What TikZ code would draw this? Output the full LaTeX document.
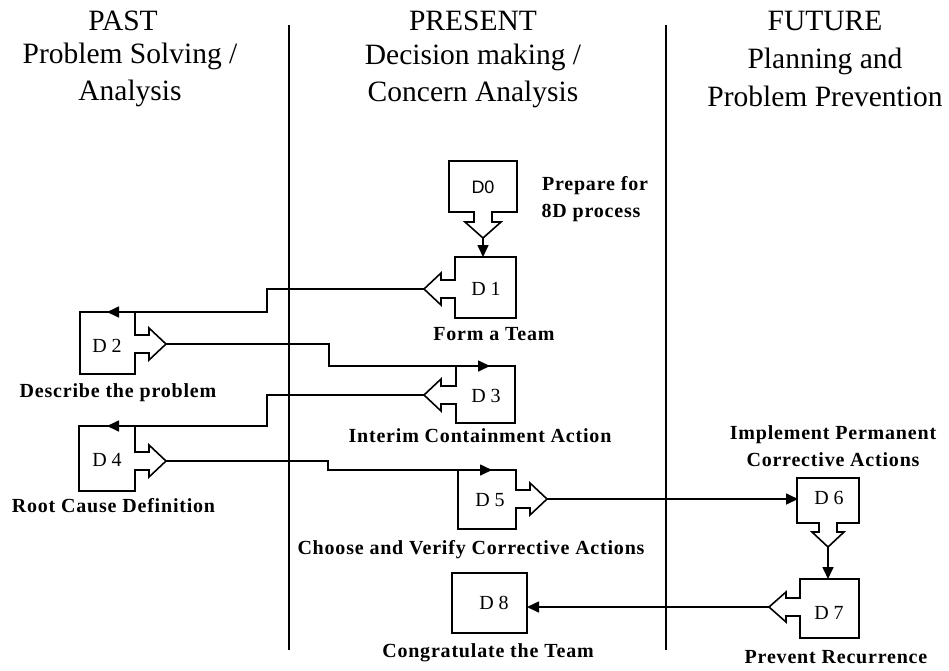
\documentclass[tikz,border=0pt]{standalone}
\usepackage{fontspec}
\setmainfont{Liberation Serif}
\newfontfamily\dsans{Liberation Sans}
\newfontfamily\captfont[LetterSpace=4]{Liberation Serif}
\usetikzlibrary{arrows.meta}
\begin{document}
\begin{tikzpicture}[x=1pt,y=-1pt,
  outline/.style={draw=black,line width=1.6pt,line join=miter,fill=white},
  conn/.style={draw=black,line width=1.6pt},
  arr/.style={conn,-{Triangle[length=12pt,width=11pt]}},
  divider/.style={draw=black,line width=1.3pt},
  head/.style={font=\fontsize{29.5}{34}\selectfont,anchor=base,inner sep=0pt},
  capt/.style={font=\captfont\fontsize{20}{26}\selectfont\bfseries,anchor=base,inner sep=0pt},
  dlab/.style={font=\fontsize{20}{22}\selectfont,inner sep=0pt}]
\useasboundingbox (0,0) rectangle (949,670);
% dividers
\draw[divider] (289,25) -- (289,650);
\draw[divider] (666,25) -- (666,650);
% headers
\node[head] (hpast) at (123,30) {PAST};
\node[head] (hpast2) at (130,63) {Problem Solving /};
\node[head] (hpast3) at (130,100) {Analysis};
\node[head] (hpre) at (473,30) {PRESENT};
\node[head] (hpre2) at (473,64) {Decision making /};
\node[head] (hpre3) at (473,101) {Concern Analysis};
\node[head] (hfut) at (825,30) {FUTURE};
\node[head] (hfut2) at (825,68) {Planning and};
\node[head] (hfut3) at (825,106) {Problem Prevention};
% D0
\draw[outline] (449,161) -- (517,161) -- (517,212) -- (492,212) -- (492,222) -- (501,222) -- (483,238) -- (465,222) -- (474,222) -- (474,212) -- (449,212) -- cycle;
\node[font=\dsans\fontsize{18}{20}\selectfont,inner sep=0pt] (d0) at (483,187) {D0};
\coordinate (d0tip) at (483,238);
\coordinate (d1top) at (483,257);
\node[capt] (l0) at (595,190.5) {Prepare for};
\node[capt] (l0b) at (591,217) {8D process};
% D1
\draw[outline] (455,257) -- (516,257) -- (516,318) -- (455,318) -- (455,298) -- (441,298) -- (441,305) -- (424,289) -- (441,273) -- (441,280) -- (455,280) -- cycle;
\node[dlab] (d1) at (486,289) {D 1};
\coordinate (d1tip) at (424,289);
\node[capt] (l1) at (494,340) {Form a Team};
% D2
\draw[outline] (80,312) -- (135,312) -- (135,335) -- (149,335) -- (149,328) -- (166,344) -- (149,360) -- (149,353) -- (135,353) -- (135,374) -- (80,374) -- cycle;
\node[dlab] (d2) at (107,346) {D 2};
\coordinate (d2tip) at (166,344);
\coordinate (d2in) at (107,312);
\node[capt] (l2) at (118,397) {Describe the problem};
% D3
\draw[outline] (456,366) -- (515,366) -- (515,423) -- (456,423) -- (456,404) -- (441,404) -- (441,411) -- (424,395) -- (441,379) -- (441,386) -- (456,386) -- cycle;
\node[dlab] (d3) at (486,396) {D 3};
\coordinate (d3tip) at (424,395);
\coordinate (d3in) at (490,366);
\node[capt] (l3) at (480,442) {Interim Containment Action};
% D4
\draw[outline] (79,426) -- (135,426) -- (135,452) -- (149,452) -- (149,445) -- (166,461) -- (149,477) -- (149,470) -- (135,470) -- (135,491) -- (79,491) -- cycle;
\node[dlab] (d4) at (107,460) {D 4};
\coordinate (d4tip) at (166,461);
\coordinate (d4in) at (107,426);
\node[capt] (l4) at (113.5,512) {Root Cause Definition};
% D5
\draw[outline] (458,470) -- (516,470) -- (516,490) -- (530,490) -- (530,483) -- (547,499) -- (530,515) -- (530,508) -- (516,508) -- (516,529) -- (458,529) -- cycle;
\node[dlab] (d5) at (490,500) {D 5};
\coordinate (d5tip) at (547,499);
\coordinate (d5in) at (492,470);
\node[capt] (l5) at (471,554) {Choose and Verify Corrective Actions};
% D6
\draw[outline] (797,478) -- (859,478) -- (859,523) -- (837,523) -- (837,532) -- (844,532) -- (828,547) -- (812,532) -- (819,532) -- (819,523) -- (797,523) -- cycle;
\node[dlab] (d6) at (829,498) {D 6};
\coordinate (d6in) at (798,499);
\coordinate (d6tip) at (828,547);
\coordinate (d7top) at (828,579);
\node[capt] (l6) at (833,439) {Implement Permanent};
\node[capt] (l6b) at (833,466) {Corrective Actions};
% D7
\draw[outline] (800,579) -- (859,579) -- (859,638) -- (800,638) -- (800,616) -- (786,616) -- (786,622) -- (769,607) -- (786,592) -- (786,598) -- (800,598) -- cycle;
\node[dlab] (d7) at (829,613) {D 7};
\coordinate (d7tip) at (769,607);
\node[capt] (l7) at (836,663) {Prevent Recurrence};
% D8
\draw[outline] (452,573) rectangle (527,633);
\node[dlab] (d8) at (494,603) {D 8};
\coordinate (d8in) at (527,607);
\node[capt] (l8) at (488,657) {Congratulate the Team};
% connectors
\draw[arr] (d0tip) -- (d1top);
\draw[arr] (d1tip) -- (267,289) -- (267,312) -- (d2in);
\draw[arr] (d2tip) -- (329,344) -- (329,366) -- (d3in);
\draw[arr] (d3tip) -- (267,395) -- (267,426) -- (d4in);
\draw[arr] (d4tip) -- (328,461) -- (328,470) -- (d5in);
\draw[arr] (d5tip) -- (d6in);
\draw[arr] (d6tip) -- (d7top);
\draw[arr] (d7tip) -- (d8in);
\end{tikzpicture}
\end{document}
